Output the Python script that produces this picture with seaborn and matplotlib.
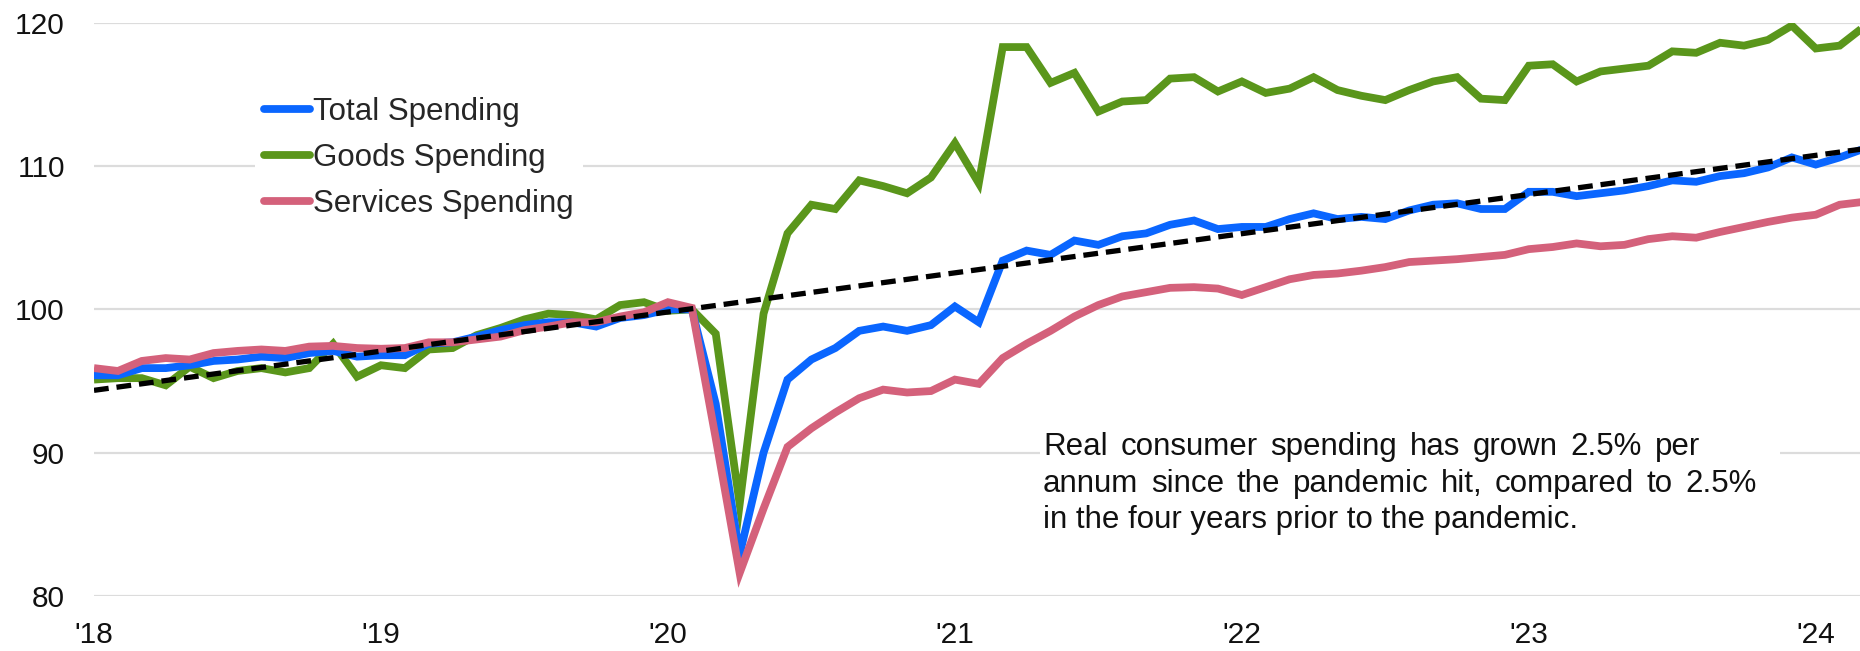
import matplotlib
matplotlib.use("Agg")
import matplotlib.pyplot as plt
from matplotlib.patches import Rectangle
import seaborn as sns
import pandas as pd

# Monthly index levels, Jan 2018 - Mar 2024 (Feb 2020 = 100)
months = pd.period_range("2018-01", "2024-03", freq="M")

total_spending = [
    95.4, 95.4, 95.9, 95.9, 96.1, 96.4, 96.5, 96.7, 96.6, 96.95, 97.1, 96.7,
    96.8, 96.8, 97.6, 97.7, 98.1, 98.55, 98.9, 99.1, 99.1, 98.8, 99.4, 99.6,
    100.0, 100.0, 93.4, 82.9, 90.0, 95.1, 96.5, 97.3, 98.5, 98.8, 98.5, 98.9,
    100.2, 99.1, 103.4, 104.1, 103.8, 104.8, 104.5, 105.1, 105.3, 105.9, 106.2, 105.6,
    105.75, 105.75, 106.3, 106.7, 106.3, 106.45, 106.3, 106.9, 107.3, 107.4, 107.0, 107.0,
    108.2, 108.2, 107.9, 108.1, 108.3, 108.6, 109.0, 108.9, 109.3, 109.5, 109.9, 110.6,
    110.1, 110.6, 111.2,
]
goods_spending = [
    95.1, 95.2, 95.2, 94.7, 96.0, 95.2, 95.7, 95.9, 95.6, 95.9, 97.6, 95.3,
    96.1, 95.9, 97.2, 97.3, 98.2, 98.7, 99.3, 99.7, 99.6, 99.3, 100.3, 100.5,
    99.9, 100.0, 98.3, 86.4, 99.7, 105.3, 107.3, 107.0, 109.0, 108.6, 108.1, 109.2,
    111.6, 108.8, 118.3, 118.3, 115.8, 116.5, 113.8, 114.5, 114.6, 116.1, 116.2, 115.2,
    115.9, 115.1, 115.4, 116.2, 115.3, 114.9, 114.6, 115.3, 115.9, 116.2, 114.7, 114.6,
    117.0, 117.1, 115.9, 116.6, 116.8, 117.0, 118.0, 117.9, 118.6, 118.4, 118.8, 119.8,
    118.2, 118.4, 119.7,
]
services_spending = [
    95.9, 95.7, 96.4, 96.6, 96.5, 96.95, 97.1, 97.2, 97.1, 97.4, 97.45, 97.3,
    97.25, 97.3, 97.7, 97.7, 97.9, 98.1, 98.55, 98.8, 99.1, 99.1, 99.5, 99.8,
    100.5, 100.1, 91.0, 81.6, 86.1, 90.4, 91.7, 92.8, 93.8, 94.4, 94.2, 94.3,
    95.1, 94.8, 96.6, 97.6, 98.5, 99.5, 100.3, 100.9, 101.2, 101.5, 101.55, 101.45,
    101.0, 101.55, 102.1, 102.4, 102.5, 102.7, 102.95, 103.3, 103.4, 103.5, 103.65, 103.8,
    104.2, 104.35, 104.6, 104.4, 104.5, 104.9, 105.1, 105.0, 105.4, 105.75, 106.1, 106.4,
    106.6, 107.3, 107.5,
]

# Pre-pandemic trend (dashed), first and last month
trend_months = [0, 74]
trend_values = [94.35, 111.2]

year_ticks = [0, 12, 24, 36, 48, 60, 72]
year_labels = ["'18", "'19", "'20", "'21", "'22", "'23", "'24"]
y_ticks = [80, 90, 100, 110, 120]

note_lines = [
    "Real consumer spending has grown 2.5% per",
    "annum since the pandemic hit, compared to 2.5%",
    "in the four years prior to the pandemic.",
]

series_names = ["Total Spending", "Goods Spending", "Services Spending"]
colors = {"Total Spending": "#0A66FF", "Goods Spending": "#5A961B",
          "Services Spending": "#D4617B"}

sns.set_theme(style="white")
plt.rcParams["font.family"] = ["Liberation Sans", "DejaVu Sans"]

x = list(range(len(months)))
df = pd.DataFrame({
    "month": x * 3,
    "value": total_spending + goods_spending + services_spending,
    "series": (["Total Spending"] * len(x) + ["Goods Spending"] * len(x)
               + ["Services Spending"] * len(x)),
})

W, H = 1860, 651
fig = plt.figure(figsize=(W / 100, H / 100), dpi=100)
ax_left, ax_right, ax_top, ax_bottom = 94, 1860, 22.7, 596
ax = fig.add_axes([ax_left / W, 1 - ax_bottom / H,
                   (ax_right - ax_left) / W, (ax_bottom - ax_top) / H])

LW = 5.6
# draw order: goods underneath, services above, trend on top
z = {"Goods Spending": 3, "Total Spending": 4, "Services Spending": 5}
for name in ["Goods Spending", "Total Spending", "Services Spending"]:
    sns.lineplot(data=df[df["series"] == name], x="month", y="value", ax=ax,
                 color=colors[name], linewidth=LW, label=name, zorder=z[name],
                 solid_joinstyle="miter", solid_capstyle="butt")

sns.lineplot(x=trend_months, y=trend_values, ax=ax, color="black",
             linewidth=3.8, zorder=6)
ax.lines[-1].set_dashes((2.8, 1.5))

ax.set_xlim(0, 73.85)
ax.set_ylim(80, 120)
ax.set_xticks(year_ticks)
ax.set_xticklabels(year_labels)
ax.set_yticks(y_ticks)
ax.set_xlabel("")
ax.set_ylabel("")
ax.tick_params(axis="x", length=0, pad=18, labelsize=21.5, colors="#111111")
ax.tick_params(axis="y", length=0, pad=21, labelsize=21.5, colors="#111111")
ax.grid(axis="y", color="#DCDCDC", linewidth=1.6)
ax.grid(axis="x", visible=False)
ax.set_axisbelow(True)
for s in ax.spines.values():
    s.set_visible(False)

# Legend with white box, ordered Total / Goods / Services
handles, labels = ax.get_legend_handles_labels()
order = [labels.index(n) for n in series_names]
if ax.get_legend():
    ax.get_legend().remove()
leg = fig.legend([handles[i] for i in order], [labels[i] for i in order],
                 loc="center left", bbox_to_anchor=(255 / W, 1 - 158 / H),
                 frameon=True, fancybox=False, framealpha=1.0,
                 facecolor="white", edgecolor="none", fontsize=22.5,
                 handlelength=1.45, handletextpad=0.12, labelspacing=0.5,
                 borderpad=0.3, borderaxespad=0)
for h in leg.get_lines():
    h.set_linewidth(LW)
    h.set_solid_capstyle("round")

# White box behind the note
ax.add_patch(Rectangle((1040 / W, 1 - 540 / H), (1780 - 1040) / W, (540 - 428) / H,
                       transform=fig.transFigure, facecolor="white",
                       edgecolor="none", zorder=1))

# Note text, justified line by line
renderer = fig.canvas.get_renderer()
note_fs = 22.5
note_left = 1043
baselines = [455, 491.7, 528.3]
right_edges = [1700, 1757, None]
for line, base, right in zip(note_lines, baselines, right_edges):
    words = line.split(" ")
    if right is None:
        fig.text(note_left / W, 1 - base / H, line, fontsize=note_fs,
                 va="baseline", ha="left", color="#111111")
        continue
    widths = []
    for w in words:
        t = fig.text(0, 0, w, fontsize=note_fs)
        widths.append(t.get_window_extent(renderer).width)
        t.remove()
    gap = (right - note_left - sum(widths)) / (len(words) - 1)
    xpos = note_left
    for w, wd in zip(words, widths):
        fig.text(xpos / W, 1 - base / H, w, fontsize=note_fs, va="baseline",
                 ha="left", color="#111111")
        xpos += wd + gap

fig.savefig("out.png", dpi=100, facecolor="white")
